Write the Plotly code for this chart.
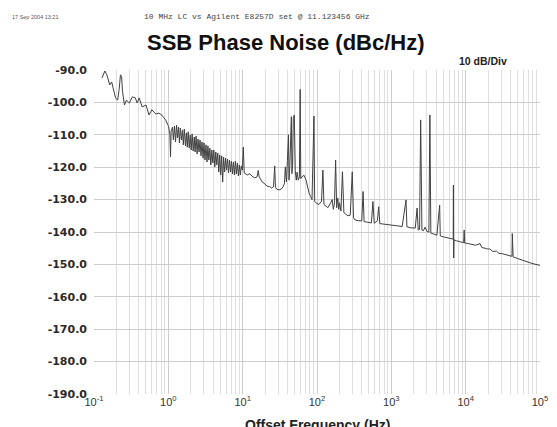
import plotly.graph_objects as go

# Offset frequency (Hz) and SSB phase noise (dBc/Hz)
freq_hz = [
    0.128, 0.140, 0.149, 0.163, 0.173, 0.184, 0.195, 0.208, 0.218, 0.227, 0.235, 0.242, 0.257, 0.273,
    0.299, 0.328, 0.359, 0.381, 0.405, 0.444, 0.501, 0.549, 0.601, 0.679, 0.744, 0.815, 0.921, 1.01,
    1.05, 1.07, 1.09,
    1.14, 1.17, 1.21, 1.25, 1.29, 1.33, 1.37, 1.41, 1.45, 1.50, 1.55, 1.59, 1.64, 1.70, 1.75, 1.80,
    1.85, 1.91, 1.97, 2.03, 2.09, 2.16, 2.23, 2.29, 2.36, 2.44, 2.51, 2.59, 2.67, 2.75, 2.84, 2.93,
    3.02, 3.11, 3.21, 3.31, 3.41, 3.51, 3.62, 3.73, 3.85, 3.97, 4.09, 4.22, 4.35, 4.48, 4.62, 4.77,
    4.91, 5.06, 5.22, 5.38, 5.54, 5.72, 5.89, 6.07, 6.26, 6.45, 6.65, 6.86, 7.07, 7.29, 7.51, 7.74,
    7.98, 8.23, 8.49, 8.75, 9.02, 9.30, 9.59, 9.89, 10.2, 10.5,
    11.5, 12.5, 13.4, 14.5, 15.6, 16.2, 16.6, 18.2, 20.0, 21.1, 23.0, 24.6, 26.0, 27.0, 27.6, 28.7,
    31.0, 33.3, 35.0, 36.5, 37.5, 38.8, 40.0, 41.3, 42.0, 43.0, 45.2, 46.0, 47.0, 48.0, 49.5, 51.0,
    52.6, 54.0, 55.9, 58.0, 59.4, 60.5, 63.2, 67.0, 71.3, 74.0, 78.2, 82.0, 85.7, 91.0, 93.0,
    96.7, 106, 115, 120, 124, 131, 140, 153, 160, 166, 172, 178, 184, 190, 196, 201, 210, 220, 230,
    241, 260, 280, 298, 310, 326, 360, 400, 417, 430, 480, 540, 565, 590, 650, 676, 700, 800, 900,
    1000, 1200, 1400, 1575, 1620, 1800, 2100, 2220, 2300, 2400, 2480, 2580, 2700, 2850, 3000, 3200,
    3300, 3400, 3700, 4100, 4470, 4550, 5000, 6000, 6800, 6840, 6900, 6950, 7500, 8500, 9400, 9550,
    9700, 11000, 12600, 13600, 15600, 16500, 19000, 20000, 21000, 23000, 26000, 28000, 31000, 34000,
    38700, 42000, 42400, 43500, 50000, 57500, 65000, 78000, 99400,
]
noise_dbc = [
    -92.5, -90.3, -91.5, -94.6, -93.7, -96.2, -98.6, -99.3, -96.0, -91.5, -92.0, -96.7, -100.8, -99.3,
    -100.2, -98.3, -98.6, -100.2, -98.6, -101.4, -100.8, -103.9, -102.3, -103.6, -103.3, -103.9, -105.4, -107.5,
    -110.0, -116.8, -109.0,
    -107.6, -111.6, -107.3, -112.2, -107.0, -111.0, -107.6, -112.5, -107.9, -111.6, -108.5, -113.1, -108.2, -113.4, -109.4, -113.8,
    -109.1, -114.1, -110.1, -114.7, -109.7, -115.0, -110.7, -115.3, -110.4, -115.9, -111.3, -115.3, -111.6, -116.5, -112.2, -117.2,
    -112.5, -117.8, -113.1, -118.4, -113.4, -117.8, -114.1, -119.3, -114.7, -118.7, -114.7, -119.9, -115.3, -119.3, -115.6, -121.5,
    -116.2, -122.4, -116.5, -124.6, -116.9, -121.5, -117.2, -120.9, -117.5, -121.8, -117.8, -121.5, -118.1, -122.1, -118.4, -122.4,
    -118.1, -122.1, -118.7, -122.7, -119.3, -122.4, -119.6, -120.9, -113.8, -121.8,
    -122.4, -122.0, -122.8, -123.3, -123.0, -121.0, -122.8, -124.5, -125.2, -125.8, -126.0, -126.4, -126.0, -119.6, -126.2, -126.8,
    -127.0, -126.7, -126.0, -125.0, -119.9, -124.5, -118.0, -110.0, -124.0, -120.0, -104.4, -122.0, -119.0, -105.0, -103.9, -121.0,
    -124.0, -121.5, -124.0, -123.0, -96.0, -123.5, -122.9, -122.5, -124.0, -126.0, -128.0, -129.0, -130.0, -104.2, -130.5,
    -131.0, -131.5, -130.5, -120.9, -131.5, -132.0, -132.5, -131.0, -130.0, -133.0, -131.0, -117.8, -132.5, -129.5, -133.0, -131.0, -133.5, -121.4, -134.0,
    -134.4, -135.0, -134.8, -121.4, -135.6, -136.3, -136.5, -136.6, -127.5, -136.8, -137.0, -137.2, -130.6, -137.3, -136.5, -132.2, -137.4, -137.6, -137.8,
    -138.0, -138.1, -138.3, -130.1, -138.4, -138.7, -138.8, -132.6, -139.4, -139.2, -105.4, -139.4, -139.6, -138.5, -139.8, -140.0,
    -103.9, -140.3, -140.7, -141.0, -131.7, -141.2, -141.5, -142.0, -142.2, -125.5, -148.0, -142.4, -142.7, -143.0, -143.3, -139.4,
    -143.4, -143.6, -143.8, -144.1, -143.6, -144.8, -145.1, -145.3, -145.2, -146.0, -145.9, -146.6, -146.7, -147.0,
    -147.2, -147.5, -140.5, -147.7, -148.2, -148.7, -149.2, -149.7, -150.3,
]

y_ticks = [-90, -100, -110, -120, -130, -140, -150, -160, -170, -180, -190]
y_tick_text = ["-90.0", "-100.0", "-110.0", "-120.0", "-130.0", "-140.0", "-150.0",
               "-160.0", "-170.0", "-180.0", "-190.0"]
x_ticks = [0.1, 1, 10, 100, 1000, 10000, 100000]
x_tick_text = ["10<sup>-1</sup>", "10<sup>0</sup>", "10<sup>1</sup>", "10<sup>2</sup>",
               "10<sup>3</sup>", "10<sup>4</sup>", "10<sup>5</sup>"]
minor_ticks = [m * 10.0 ** e for e in range(-1, 5) for m in range(2, 10)]

FONT = "Liberation Sans, Arial, sans-serif"
WIDE = "DejaVu Sans, sans-serif"

fig = go.Figure()
fig.add_trace(go.Scatter(
    x=freq_hz, y=noise_dbc, mode="lines",
    line=dict(color="#404040", width=1),
    showlegend=False, hoverinfo="x+y",
))

fig.update_layout(
    width=549, height=419,
    margin=dict(l=86, r=9, t=62, b=33),
    paper_bgcolor="white", plot_bgcolor="white",
    font=dict(family=FONT, color="#222222"),
    xaxis=dict(
        type="log", range=[-1, 5],
        tickmode="array", tickvals=x_ticks, ticktext=x_tick_text,
        tickfont=dict(size=11, color="#333333"),
        showgrid=True, gridcolor="#cdcdcd", gridwidth=1,
        minor=dict(tickmode="array", tickvals=minor_ticks, showgrid=True,
                   gridcolor="#dedede", gridwidth=1, ticks=""),
        ticks="", showline=False, zeroline=False,
    ),
    yaxis=dict(
        range=[-190, -90],
        tickmode="array", tickvals=y_ticks, ticktext=y_tick_text,
        tickfont=dict(size=11, family=WIDE, color="#2a2a2a", weight="bold"),
        ticklabelstandoff=6,
        showgrid=True, gridcolor="#cdcdcd", gridwidth=1,
        ticks="", showline=False, zeroline=False,
    ),
    annotations=[
        dict(text="<b>SSB Phase Noise (dBc/Hz)</b>", xref="paper", yref="paper",
             x=0.43, y=1.0, yshift=28, xanchor="center", yanchor="middle",
             showarrow=False, font=dict(size=22, family=FONT, color="#111111")),
        dict(text="<b>10 dB/Div</b>", xref="paper", yref="paper",
             x=0.93, y=1.0, yshift=9, xanchor="right", yanchor="middle",
             showarrow=False, font=dict(size=10.5, family=FONT, color="#222222")),
        dict(text="17 Sep 2004 13:21", xref="paper", yref="paper",
             x=-86 / 454, y=1.0, yshift=53, xanchor="left", yanchor="middle",
             showarrow=False, font=dict(size=5.5, family=FONT, color="#555555")),
        dict(text="10 MHz LC vs Agilent E8257D set @ 11.123456 GHz", xref="paper", yref="paper",
             x=0.366, y=1.0, yshift=54, xanchor="center", yanchor="middle",
             showarrow=False, font=dict(size=8, family="Liberation Mono, monospace", color="#444444")),
        dict(text="<b>Offset Frequency (Hz)</b>", xref="paper", yref="paper",
             x=0.5, y=0.0, yshift=-31, xanchor="center", yanchor="middle",
             showarrow=False, font=dict(size=14, family=FONT, color="#222222")),
    ],
)

fig.write_html("out.html")
